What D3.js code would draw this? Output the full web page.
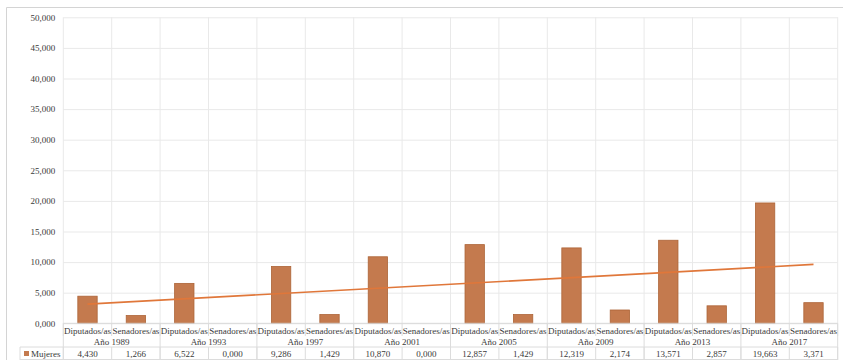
<!DOCTYPE html>
<html>
<head>
<meta charset="utf-8">
<script src="https://cdn.jsdelivr.net/npm/d3@7"></script>
<style>
  html, body { margin: 0; padding: 0; background: #fff; }
  svg { display: block; }
  text { font-family: "Liberation Serif", "Times New Roman", serif; fill: #3a3a3a; }
</style>
</head>
<body>
<svg id="chart" width="843" height="360"></svg>
<script>
// Percentage of women per chamber and election year
const years = ["Año 1989", "Año 1993", "Año 1997", "Año 2001", "Año 2005", "Año 2009", "Año 2013", "Año 2017"];
const chambers = ["Diputados/as", "Senadores/as"];
const seriesName = "Mujeres";
const mujeres = [4.430, 1.266, 6.522, 0.000, 9.286, 1.429, 10.870, 0.000,
                 12.857, 1.429, 12.319, 2.174, 13.571, 2.857, 19.663, 3.371];
const yTicks = [0, 5, 10, 15, 20, 25, 30, 35, 40, 45, 50];

const barColor = "#c47a4e";
const barStroke = "#ad6437";
const trendColor = "#e0773a";
const gridColor = "#e9e9e9";
const tableLine = "#dcdcdc";

// Spanish number format: comma as decimal separator
const esLocale = d3.formatLocale({ decimal: ",", thousands: ".", grouping: [3], currency: ["", ""] });
const fmt = esLocale.format(".3f");

// One entry per (year, chamber) pair
const cats = [];
years.forEach((yr, i) => chambers.forEach((ch, j) => {
  cats.push({ key: yr + "|" + ch, year: yr, chamber: ch, value: mujeres[i * 2 + j] });
}));

const plotLeft = 63.3, plotRight = 837.7, plotTop = 17.3, plotBottom = 323.3;

const svg = d3.select("#chart");

const x = d3.scaleBand().domain(cats.map(d => d.key)).range([plotLeft, plotRight]).padding(0);
const xYear = d3.scaleBand().domain(years).range([plotLeft, plotRight]).padding(0);
const y = d3.scaleLinear().domain([0, 50]).range([plotBottom, plotTop]);

// Outer chart frame
svg.append("path")
  .attr("d", `M6.5,360 V7.5 H843`)
  .attr("fill", "none").attr("stroke", "#d4d4d4").attr("stroke-width", 1);

// Horizontal gridlines and value axis labels
const yAxis = d3.axisLeft(y).tickValues(yTicks).tickFormat(fmt).tickSize(-(plotRight - plotLeft)).tickPadding(8);
const gy = svg.append("g").attr("transform", `translate(${plotLeft},0)`).call(yAxis);
gy.select(".domain").remove();
gy.selectAll(".tick line").attr("stroke", gridColor).attr("stroke-width", 1);
gy.selectAll(".tick text").attr("font-size", 9).attr("fill", "#3a3a3a")
  .attr("font-family", "Liberation Serif, serif");

// Vertical gridlines at every category boundary
const bounds = cats.map(d => x(d.key)).concat([plotRight]);
svg.append("g").selectAll("line").data(bounds).join("line")
  .attr("x1", d => d).attr("x2", d => d)
  .attr("y1", plotTop).attr("y2", plotBottom)
  .attr("stroke", gridColor).attr("stroke-width", 1);

// Bars
const bw = x.bandwidth() * 0.4;
svg.append("g").selectAll("rect").data(cats).join("rect")
  .attr("x", d => x(d.key) + (x.bandwidth() - bw) / 2)
  .attr("y", d => y(d.value))
  .attr("width", bw)
  .attr("height", d => y(0) - y(d.value))
  .attr("fill", barColor)
  .attr("stroke", barStroke).attr("stroke-width", 0.8);

// Linear trend across the sixteen categories (least squares)
const n = mujeres.length;
const xs = d3.range(1, n + 1);
const mx = d3.mean(xs), my = d3.mean(mujeres);
const slope = d3.sum(xs, (xi, i) => (xi - mx) * (mujeres[i] - my)) / d3.sum(xs, xi => (xi - mx) ** 2);
const intercept = my - slope * mx;
const trendPts = [0, n - 1].map(i => [x(cats[i].key) + x.bandwidth() / 2, y(intercept + slope * (i + 1))]);
svg.append("path")
  .attr("d", d3.line()(trendPts))
  .attr("fill", "none").attr("stroke", trendColor).attr("stroke-width", 1.6);

// Data table below the plot
const rowCat = 330.5, rowYear = 341.5, rowVal = 353.5;
const lineTop = plotBottom, lineMid = 347, lineBot = 359.5;
const table = svg.append("g");

// bottom axis line
table.append("line").attr("x1", plotLeft).attr("x2", plotRight).attr("y1", plotBottom).attr("y2", plotBottom)
  .attr("stroke", "#d9d9d9");
// separator above the value row and bottom edge
table.append("line").attr("x1", 20).attr("x2", plotRight).attr("y1", lineMid).attr("y2", lineMid)
  .attr("stroke", tableLine);
table.append("line").attr("x1", 20).attr("x2", plotRight).attr("y1", lineBot).attr("y2", lineBot)
  .attr("stroke", tableLine);
table.append("line").attr("x1", 20).attr("x2", 20).attr("y1", lineMid).attr("y2", 360)
  .attr("stroke", tableLine);

// category dividers (chamber row and value row)
table.selectAll("line.cat").data(bounds).join("line").attr("class", "cat")
  .attr("x1", d => d).attr("x2", d => d).attr("y1", lineTop).attr("y2", 336)
  .attr("stroke", tableLine);
table.selectAll("line.val").data(bounds).join("line").attr("class", "val")
  .attr("x1", d => d).attr("x2", d => d).attr("y1", lineMid).attr("y2", 360)
  .attr("stroke", tableLine);
// year dividers spanning the full table height
const yearBounds = years.map(d => xYear(d)).concat([plotRight]);
table.selectAll("line.yr").data(yearBounds).join("line").attr("class", "yr")
  .attr("x1", d => d).attr("x2", d => d).attr("y1", lineTop).attr("y2", 360)
  .attr("stroke", tableLine);

// chamber labels
table.selectAll("text.cat").data(cats).join("text").attr("class", "cat")
  .attr("x", d => x(d.key) + x.bandwidth() / 2).attr("y", rowCat)
  .attr("text-anchor", "middle").attr("dominant-baseline", "central")
  .attr("font-size", 9).text(d => d.chamber);

// year labels
table.selectAll("text.yr").data(years).join("text").attr("class", "yr")
  .attr("x", d => xYear(d) + xYear.bandwidth() / 2).attr("y", rowYear)
  .attr("text-anchor", "middle").attr("dominant-baseline", "central")
  .attr("font-size", 9).text(d => d);

// values
table.selectAll("text.val").data(cats).join("text").attr("class", "val")
  .attr("x", d => x(d.key) + x.bandwidth() / 2).attr("y", rowVal)
  .attr("text-anchor", "middle").attr("dominant-baseline", "central")
  .attr("font-size", 9).text(d => fmt(d.value));

// legend key and series name
table.append("rect").attr("x", 24).attr("y", rowVal - 2.5).attr("width", 5).attr("height", 5)
  .attr("fill", barColor);
table.append("text").attr("x", 31).attr("y", rowVal).attr("dominant-baseline", "central")
  .attr("font-size", 9).text(seriesName);
</script>
</body>
</html>
